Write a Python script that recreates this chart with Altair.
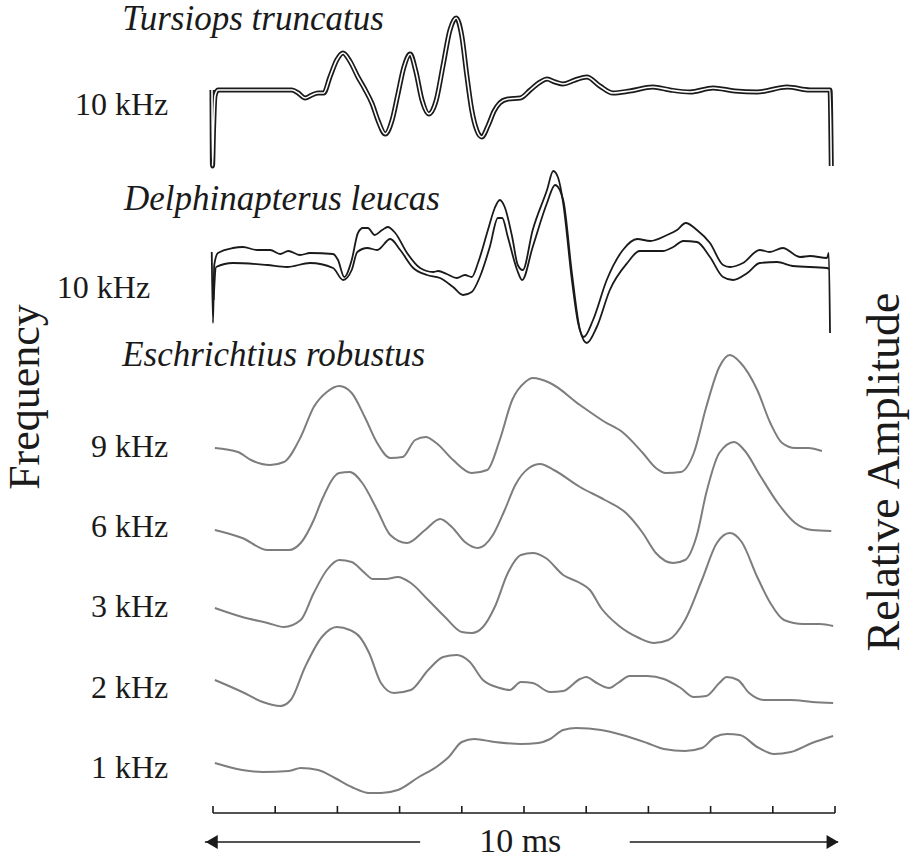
import altair as alt
import pandas as pd

# ---------------- data (time in ms, amplitude in relative units) ----------------
ticks_ms = [0, 1, 2, 3, 4, 5, 6, 7, 8, 9, 10]

# vertical offset (stack position) of each trace
offsets = {"tur": 753, "del": 570, "9k": 411, "6k": 331, "3k": 251, "2k": 170, "1k": 90}

# Tursiops truncatus, 10 kHz (double-outline trace)
tur_t = [-0.016, -0.008, 0.008, 0.032, 0.08, 0.76, 1.27, 1.37, 1.48, 1.59, 1.69, 1.78, 1.88, 1.99,
         2.09, 2.20, 2.33, 2.44, 2.56, 2.65, 2.77, 2.88, 2.97, 3.07, 3.17, 3.26, 3.36, 3.47, 3.59,
         3.70, 3.81, 3.91, 4.00, 4.08, 4.16, 4.24, 4.32, 4.42, 4.52, 4.61, 4.74, 4.94, 5.10, 5.26,
         5.37, 5.50, 5.63, 5.82, 6.01, 6.22, 6.43, 6.70, 7.07, 7.35, 7.67, 8.04, 8.39, 8.75, 9.23,
         9.60, 9.92, 9.94]
tur_a = [15, -61, -25, 9, 15, 15, 15, 12, 7, 10, 12, 12, 28, 45,
         52, 44, 28, 16, 1, -15, -29, -15, 10, 38, 51, 34, 5, -9, 5,
         40, 75, 87, 69, 30, -5, -25, -32, -21, -6, 2, 6, 7, 15, 23,
         26, 23, 21, 25, 28, 19, 12, 14, 18, 15, 13, 17, 14, 13, 18,
         15, 15, -61]

# Delphinapterus leucas, 10 kHz (two traces)
delU_t = [-0.02, 0.0, 0.02, 0.08, 0.32, 0.48, 0.71, 0.92, 1.08, 1.21, 1.40, 1.56, 1.93, 2.01, 2.11,
          2.23, 2.33, 2.41, 2.49, 2.60, 2.72, 2.81, 2.93, 3.12, 3.33, 3.54, 3.62, 3.76, 3.92, 4.05,
          4.16, 4.26, 4.42, 4.53, 4.61, 4.69, 4.81, 4.90, 4.98, 5.14, 5.37, 5.47, 5.55, 5.63, 5.77,
          5.87, 5.96, 6.11, 6.33, 6.59, 6.82, 7.03, 7.30, 7.46, 7.60, 7.78, 7.99, 8.20, 8.31, 8.52,
          8.79, 8.95, 9.16, 9.44, 9.60, 9.87, 9.90, 9.92]
delU_a = [36, -35, 23, 35, 40, 41, 38, 38, 34, 37, 33, 35, 34, 28, 11,
          28, 55, 60, 60, 53, 58, 61, 55, 35, 20, 16, 17, 14, 10, 13,
          11, 25, 58, 80, 88, 81, 51, 23, 18, 58, 98, 117, 110, 85, 8,
          -35, -49, -32, 8, 38, 49, 47, 53, 58, 65, 58, 45, 23, 21, 25,
          38, 36, 40, 31, 32, 30, 35, -45]
delL_t = [0.01, 0.05, 0.32, 0.87, 1.19, 1.56, 1.93, 2.09, 2.23, 2.32, 2.48, 2.64, 2.85, 3.01, 3.22,
          3.44, 3.65, 3.86, 4.02, 4.16, 4.29, 4.45, 4.58, 4.65, 4.74, 4.89, 4.97, 5.14, 5.37, 5.50,
          5.63, 5.77, 5.90, 6.01, 6.17, 6.38, 6.66, 6.86, 7.23, 7.40, 7.56, 7.78, 7.99, 8.20, 8.36,
          8.59, 8.79, 9.07, 9.32, 9.87, 9.90]
delL_a = [-12, 21, 25, 23, 21, 25, 20, 8, 18, 36, 40, 38, 49, 38, 20,
          13, 10, 1, -7, -4, 11, 41, 70, 70, 51, 18, 8, 41, 85, 103,
          88, 15, -42, -55, -39, -2, 25, 37, 37, 41, 47, 46, 31, 11, 8,
          15, 25, 26, 22, 20, 19]

# Eschrichtius robustus, 9 / 6 / 3 / 2 / 1 kHz
e9_t = [0.03, 0.40, 0.61, 0.92, 1.14, 1.41, 1.62, 1.83, 2.03, 2.23, 2.44, 2.64, 2.85, 3.05, 3.25,
        3.42, 3.59, 3.86, 4.16, 4.41, 4.61, 4.81, 5.02, 5.14, 5.42, 5.90, 6.30, 6.58, 6.91, 7.12,
        7.28, 7.52, 7.73, 7.93, 8.14, 8.31, 8.47, 8.75, 8.96, 9.15, 9.36, 9.57, 9.79]
e9_a = [-1, -5, -13, -18, -15, 10, 40, 55, 61, 54, 30, 4, -11, -10, 7,
        10, 4, -13, -26, -23, 7, 47, 65, 69, 64, 42, 25, 15, -6, -21,
        -26, -25, -6, 40, 80, 92, 85, 57, 24, 4, -1, -1, -4]

e6_t = [0.03, 0.47, 0.88, 1.22, 1.41, 1.62, 1.75, 2.03, 2.20, 2.40, 2.64, 2.85, 3.12, 3.41, 3.65,
        3.84, 4.05, 4.26, 4.50, 4.69, 4.86, 5.08, 5.26, 5.48, 5.90, 6.30, 6.64, 6.91, 7.12, 7.40,
        7.59, 7.78, 7.93, 8.14, 8.38, 8.54, 8.81, 9.08, 9.36, 9.63, 9.94]
e6_a = [-3, -11, -23, -23, -16, 7, 27, 54, 55, 44, 17, -8, -16, -3, 8,
        0, -15, -21, -8, 17, 42, 59, 63, 57, 40, 27, 14, -6, -26, -36,
        -33, -8, 34, 74, 85, 77, 50, 24, 4, -3, -4]

e3_t = [0.03, 0.47, 0.88, 1.14, 1.41, 1.62, 1.83, 2.03, 2.23, 2.44, 2.57, 2.78, 2.97, 3.18, 3.46,
        3.73, 4.00, 4.16, 4.34, 4.53, 4.74, 4.95, 5.14, 5.35, 5.63, 5.90, 6.06, 6.24, 6.51, 6.85,
        7.09, 7.32, 7.59, 7.86, 8.10, 8.31, 8.50, 8.75, 8.96, 9.18, 9.49, 9.76, 9.97]
e3_a = [-1, -10, -16, -20, -13, 14, 37, 47, 45, 34, 28, 28, 30, 24, 7,
        -10, -25, -26, -20, 0, 34, 52, 54, 49, 32, 24, 17, -1, -18, -31,
        -36, -33, -13, 27, 64, 74, 65, 30, 4, -13, -17, -17, -19]

e2_t = [0.03, 0.47, 0.80, 1.08, 1.25, 1.48, 1.75, 1.99, 2.20, 2.36, 2.51, 2.70, 2.91, 3.18, 3.46,
        3.70, 3.92, 4.13, 4.34, 4.61, 4.77, 4.95, 5.14, 5.42, 5.63, 5.90, 6.00, 6.17, 6.37, 6.51,
        6.70, 6.98, 7.25, 7.52, 7.73, 7.93, 8.14, 8.26, 8.44, 8.62, 8.87, 9.29, 9.63, 9.97]
e2_a = [8, -4, -14, -18, -12, 21, 51, 61, 58, 51, 35, 5, -5, -2, 18,
        31, 33, 26, 8, 0, -2, 6, 5, -4, -3, 9, 11, 5, 0, 5,
        12, 12, 9, 0, -9, -8, 5, 11, 8, -5, -12, -12, -14, -15]

e1_t = [0.03, 0.47, 0.80, 1.22, 1.41, 1.69, 1.96, 2.23, 2.51, 2.70, 2.97, 3.31, 3.59, 3.79, 4.00,
        4.20, 4.53, 4.95, 5.23, 5.42, 5.63, 5.84, 6.24, 6.58, 6.98, 7.25, 7.59, 7.86, 8.07, 8.26,
        8.47, 8.75, 9.02, 9.29, 9.63, 9.97]
e1_a = [5, -2, -4, -3, 0, -2, -10, -19, -25, -25, -22, -9, 1, 11, 26,
        29, 26, 24, 25, 29, 38, 40, 38, 33, 25, 19, 17, 20, 31, 34,
        33, 21, 14, 16, 25, 32]

# text
freq_labels = ["10 kHz", "10 kHz", "9 kHz", "6 kHz", "3 kHz", "2 kHz", "1 kHz"]
freq_label_t = [-0.72, -1.01, -0.72, -0.72, -0.72, -0.72, -0.72]
freq_label_row = ["tur", "del", "9k", "6k", "3k", "2k", "1k"]
species = ["Tursiops truncatus", "Delphinapterus leucas", "Eschrichtius robustus"]
species_t = [-1.46, -1.43, -1.46]
species_v = [839, 659, 503]

# ---------------- build tables ----------------
def trace(name, ts, amps):
    off = offsets[name]
    return pd.DataFrame({"trace": name, "t": ts, "v": [off + a for a in amps]})

tur = trace("tur", tur_t, tur_a)
dol = pd.concat([trace("del", delU_t, delU_a).assign(line="U"),
                 trace("del", delL_t, delL_a).assign(line="L")])
esch = pd.concat([trace("9k", e9_t, e9_a), trace("6k", e6_t, e6_a), trace("3k", e3_t, e3_a),
                  trace("2k", e2_t, e2_a), trace("1k", e1_t, e1_a)])

xs = alt.Scale(domain=[-3.4244, 11.254], nice=False, zero=False)
ys = alt.Scale(domain=[0, 858], nice=False, zero=False)
X = lambda f="t": alt.X(f"{f}:Q", scale=xs, axis=None)
Y = lambda f="v": alt.Y(f"{f}:Q", scale=ys, axis=None)

tur_black = alt.Chart(tur).mark_line(color="#1a1a1a", strokeWidth=5, interpolate="monotone").encode(x=X(), y=Y())
tur_white = alt.Chart(tur).mark_line(color="white", strokeWidth=1.6, interpolate="monotone").encode(x=X(), y=Y())
del_lines = alt.Chart(dol).mark_line(color="#1a1a1a", strokeWidth=1.8, interpolate="monotone").encode(
    x=X(), y=Y(), detail="line:N")
esch_lines = alt.Chart(esch).mark_line(color="#7d7d7d", strokeWidth=2, interpolate="monotone").encode(
    x=X(), y=Y(), detail="trace:N")

# time axis (scale bar with ticks)
axis_df = pd.DataFrame({"t0": [ticks_ms[0]], "t1": [ticks_ms[-1]], "v": [45]})
axis_line = alt.Chart(axis_df).mark_rule(color="#1a1a1a", strokeWidth=1.6).encode(
    x=X("t0"), x2="t1", y=Y())
tick_df = pd.DataFrame({"t": ticks_ms, "v0": 45, "v1": 52})
tick_marks = alt.Chart(tick_df).mark_rule(color="#1a1a1a", strokeWidth=1.6).encode(
    x=X(), y=Y("v0"), y2="v1")

# "10 ms" span arrows
arrow_df = pd.DataFrame({"a": [-0.13, 6.70], "b": [3.33, 10.05], "v": [16, 16]})
arrow_lines = alt.Chart(arrow_df).mark_rule(color="#1a1a1a", strokeWidth=1.6).encode(
    x=X("a"), x2="b", y=Y())
head_df = pd.DataFrame({"t": [-0.02, 9.96], "v": [16, 16], "shape": ["triangle-left", "triangle-right"]})
heads = alt.Chart(head_df).mark_point(filled=True, color="#1a1a1a", size=190, opacity=1).encode(
    x=X(), y=Y(), shape=alt.Shape("shape:N", scale=None, legend=None))
ms_text = alt.Chart(pd.DataFrame({"t": [4.94], "v": [16], "txt": ["10 ms"]})).mark_text(
    font="Liberation Serif", fontSize=34, color="#1a1a1a", baseline="middle", align="center").encode(
    x=X(), y=Y(), text="txt:N")

lab_df = pd.DataFrame({"txt": freq_labels, "t": freq_label_t, "v": [offsets[r] for r in freq_label_row]})
lab_text = alt.Chart(lab_df).mark_text(font="Liberation Serif", fontSize=32, color="#1a1a1a",
                                        align="right", baseline="middle").encode(x=X(), y=Y(), text="txt:N")
sp_df = pd.DataFrame({"txt": species, "t": species_t, "v": species_v})
sp_text = alt.Chart(sp_df).mark_text(font="Liberation Serif", fontSize=35, fontStyle="italic",
                                      color="#1a1a1a", align="left", baseline="middle").encode(
    x=X(), y=Y(), text="txt:N")

freq_title = alt.Chart(pd.DataFrame({"t": [-3.0], "v": [461], "txt": ["Frequency"]})).mark_text(
    font="Liberation Serif", fontSize=44, angle=270, color="#1a1a1a", align="center", baseline="middle").encode(
    x=X(), y=Y(), text="txt:N")
amp_title = alt.Chart(pd.DataFrame({"t": [10.8], "v": [386], "txt": ["Relative Amplitude"]})).mark_text(
    font="Liberation Serif", fontSize=46, angle=270, color="#1a1a1a", align="center", baseline="middle").encode(
    x=X(), y=Y(), text="txt:N")

chart = alt.layer(
    esch_lines, del_lines, tur_black, tur_white,
    axis_line, tick_marks, arrow_lines, heads, ms_text,
    lab_text, sp_text, freq_title, amp_title,
).properties(
    width=913, height=858, padding=0, autosize=alt.AutoSizeParams(type="none"), background="white"
).configure_view(stroke=None)

chart.save("out.html", embed_options={"renderer": "svg", "actions": False})
